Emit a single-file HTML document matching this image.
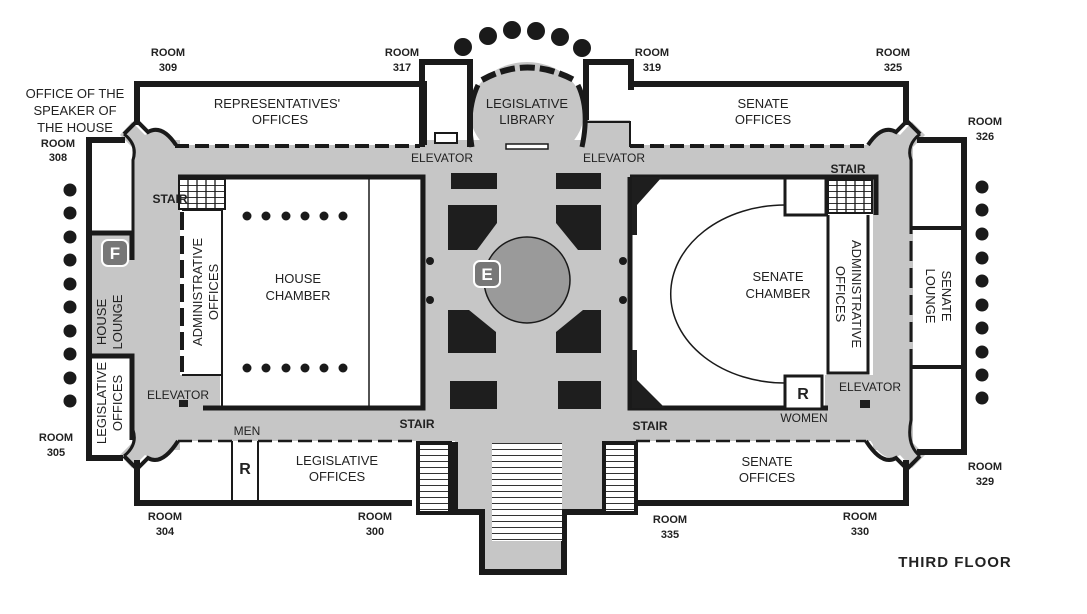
<!DOCTYPE html>
<html><head><meta charset="utf-8"><style>
html,body{margin:0;padding:0;background:#fff;}
svg{display:block}
text{font-family:"Liberation Sans",sans-serif;fill:#222;}
.b{font-weight:bold;font-size:11px;}
.n{font-size:13px;}
</style></head><body>
<svg width="1087" height="614" viewBox="0 0 1087 614" xmlns="http://www.w3.org/2000/svg">
<defs><pattern id="st" width="10" height="6" patternUnits="userSpaceOnUse"><rect width="10" height="6" fill="#fff"/><rect y="5" width="10" height="1.3" fill="#333"/></pattern></defs>
<g fill="#c6c6c6" stroke="none">
<!-- corridors -->
<rect x="135" y="145" width="775" height="32"/>
<rect x="135" y="407" width="775" height="34"/>
<rect x="132" y="140" width="48" height="310"/>
<rect x="873" y="140" width="40" height="310"/>
<rect x="420" y="140" width="210" height="300"/>
<rect x="455" y="430" width="155" height="80"/>
<rect x="482" y="500" width="82" height="72"/>
<ellipse cx="527" cy="112" rx="57" ry="50"/>
<rect x="92" y="233" width="43" height="122"/>
<rect x="585" y="120" width="45" height="30"/>
<rect x="180" y="375" width="40" height="35"/>
<rect x="825" y="375" width="50" height="35"/>
<!-- corner bumps -->
<path d="M120,135 L132,122 L145,135 Q160,125 178,145 L135,150 Z"/>
<path d="M925,135 L912,122 L900,135 Q885,125 870,145 L910,150 Z"/>
<path d="M120,455 L132,468 L145,455 Q160,465 178,440 L135,440 Z"/>
<path d="M925,455 L912,468 L900,455 Q885,465 870,440 L910,440 Z"/>
</g>
<g fill="none" stroke="#1a1a1a" stroke-linejoin="miter">
<!-- outer walls -->
<path d="M137,125 V84 H424 V145" stroke-width="6"/>
<path d="M906,125 V84 H630" stroke-width="6"/>
<path d="M137,460 V503 H412" stroke-width="6"/>
<path d="M906,460 V503 H636" stroke-width="6"/>
<path d="M125,140 H89 V458 H123" stroke-width="6"/>
<path d="M917,140 H964 V452 H917" stroke-width="6"/>
<path d="M89,233 H132 V260" stroke-width="5"/>
<path d="M89,356 H132 V440" stroke-width="5"/>
<path d="M911,228 H962 M911,367 H962" stroke-width="4"/>
<!-- corner outlines -->
<path d="M124,134 L137,121 L148,132 Q162,124 176,145" stroke-width="4"/>
<path d="M124,134 Q138,145 133,160 L133,233" stroke-width="3"/>
<path d="M920,134 L907,121 L896,132 Q882,124 868,145" stroke-width="4"/>
<path d="M920,134 Q906,145 911,160 L911,228" stroke-width="3"/>
<path d="M124,456 L137,469 L148,458 Q162,466 178,441" stroke-width="4"/>
<path d="M124,456 Q138,445 133,430" stroke-width="3"/>
<path d="M920,456 L907,469 L896,458 Q882,466 866,441" stroke-width="4"/>
<path d="M920,456 Q906,445 911,420 L911,367" stroke-width="3"/>
<!-- dashed corridor lines -->
<path d="M175,146 H420 M630,146 H868" stroke-width="4" stroke-dasharray="14,6"/>
<path d="M178,441 H414 M636,441 H866" stroke-width="2.5" stroke-dasharray="14,6"/>
<path d="M182,212 V372" stroke-width="4" stroke-dasharray="18,6"/>
<path d="M911,160 V420" stroke-width="3" stroke-dasharray="20,7"/>
<!-- towers -->
<path d="M422,147 V62 H470 V147" stroke-width="6"/>
<path d="M586,120 V62 H631 V90" stroke-width="6"/>
<path d="M586,122 H630 V147" stroke-width="2"/>
<rect x="435" y="133" width="22" height="10" stroke-width="2" fill="#fff"/>
<rect x="506" y="144" width="42" height="5" stroke-width="1.5" fill="#fff"/>
<path d="M472,147 Q466,110 478,85 M582,147 Q590,110 578,85" stroke-width="5"/>
<path d="M482,80 Q527,55 574,80" stroke-width="6" stroke-dasharray="15,5"/>
<!-- house chamber -->
<path d="M178,177 H423 V408 H203" stroke-width="5"/>
<path d="M369,177 V408" stroke-width="1.5"/>
<path d="M222,177 V408" stroke-width="2"/>
<path d="M182,210 H222 M182,375 H222" stroke-width="2"/>
<!-- senate chamber -->
<path d="M630,177 V408 H828 M630,177 H876 V215" stroke-width="5"/>
<path d="M826,178 V215 H785 V178 M785,215 H828" stroke-width="3"/>
<path d="M828,215 V373 H868 V215" stroke-width="3"/>
<path d="M785,205 A113,88 0 0,0 785,383" stroke-width="1.5"/>
<rect x="785" y="376" width="37" height="33" stroke-width="3" fill="#fff"/>
<!-- bottom -->
<path d="M455,442 V512 H482 V572 H564 V512 H605 V442" stroke-width="6"/>
<path d="M232,441 V503 M258,441 V503" stroke-width="2"/>
</g>
<!-- stairs -->
<rect x="179" y="179" width="46" height="30" fill="url(#st)" stroke="#1a1a1a" stroke-width="2"/>
<rect x="828" y="180" width="44" height="33" fill="url(#st)" stroke="#1a1a1a" stroke-width="2"/>
<g stroke="#1a1a1a" stroke-width="1.3"><path d="M188,179V209M197,179V209M206,179V209M215,179V209M837,180V213M846,180V213M855,180V213M864,180V213"/></g>
<rect x="418" y="443" width="32" height="70" fill="url(#st)" stroke="#1a1a1a" stroke-width="4"/>
<rect x="604" y="443" width="32" height="70" fill="url(#st)" stroke="#1a1a1a" stroke-width="4"/>
<rect x="492" y="443" width="70" height="98" fill="url(#st)"/>
<!-- center dark blocks -->
<g fill="#1e1e1e">
<rect x="451" y="173" width="46" height="16"/><rect x="556" y="173" width="45" height="16"/>
<path d="M448,205 H497 V223 L477,250 H448 Z"/>
<path d="M556,205 H601 V250 H578 L556,223 Z"/>
<path d="M448,310 H469 L496,332 V353 H448 Z"/>
<path d="M583,310 H601 V353 H556 V332 Z"/>
<rect x="450" y="381" width="47" height="28"/><rect x="558" y="381" width="43" height="28"/>
<path d="M632,177 H662 L637,205 V235 H632 Z"/>
<path d="M632,408 H665 L637,380 V350 H632 Z"/>
<rect x="179" y="400" width="9" height="7"/><rect x="860" y="400" width="10" height="8"/>
</g>
<circle cx="527" cy="280" r="43" fill="#9a9a9a" stroke="#1a1a1a" stroke-width="1.5"/>
<g fill="#1a1a1a">
<circle cx="430" cy="261" r="4"/><circle cx="430" cy="300" r="4"/><circle cx="623" cy="261" r="4"/><circle cx="623" cy="300" r="4"/>
<circle cx="463" cy="47" r="9"/><circle cx="488" cy="36" r="9"/><circle cx="512" cy="30" r="9"/><circle cx="536" cy="31" r="9"/><circle cx="560" cy="37" r="9"/><circle cx="582" cy="48" r="9"/>
<circle cx="247" cy="216" r="4.5"/><circle cx="266" cy="216" r="4.5"/><circle cx="286" cy="216" r="4.5"/><circle cx="305" cy="216" r="4.5"/><circle cx="324" cy="216" r="4.5"/><circle cx="343" cy="216" r="4.5"/>
<circle cx="247" cy="368" r="4.5"/><circle cx="266" cy="368" r="4.5"/><circle cx="286" cy="368" r="4.5"/><circle cx="305" cy="368" r="4.5"/><circle cx="324" cy="368" r="4.5"/><circle cx="343" cy="368" r="4.5"/>
<circle cx="70" cy="190" r="6.5"/><circle cx="70" cy="213" r="6.5"/><circle cx="70" cy="237" r="6.5"/><circle cx="70" cy="260" r="6.5"/><circle cx="70" cy="284" r="6.5"/><circle cx="70" cy="307" r="6.5"/><circle cx="70" cy="331" r="6.5"/><circle cx="70" cy="354" r="6.5"/><circle cx="70" cy="378" r="6.5"/><circle cx="70" cy="401" r="6.5"/>
<circle cx="982" cy="187" r="6.5"/><circle cx="982" cy="210" r="6.5"/><circle cx="982" cy="234" r="6.5"/><circle cx="982" cy="258" r="6.5"/><circle cx="982" cy="281" r="6.5"/><circle cx="982" cy="305" r="6.5"/><circle cx="982" cy="328" r="6.5"/><circle cx="982" cy="352" r="6.5"/><circle cx="982" cy="375" r="6.5"/><circle cx="982" cy="398" r="6.5"/>
</g>
<!-- badges -->
<rect x="102" y="240" width="26" height="26" rx="6" fill="#777" stroke="#fff" stroke-width="2"/>
<text x="115" y="259" text-anchor="middle" style="font-weight:bold;font-size:17px;fill:#fff">F</text>
<rect x="474" y="261" width="26" height="26" rx="6" fill="#777" stroke="#fff" stroke-width="2"/>
<text x="487" y="280" text-anchor="middle" style="font-weight:bold;font-size:17px;fill:#fff">E</text>
<!-- labels -->
<g class="b" text-anchor="middle">
<text x="168" y="56">ROOM</text><text x="168" y="71">309</text>
<text x="402" y="56">ROOM</text><text x="402" y="71">317</text>
<text x="652" y="56">ROOM</text><text x="652" y="71">319</text>
<text x="893" y="56">ROOM</text><text x="893" y="71">325</text>
<text x="985" y="125">ROOM</text><text x="985" y="140">326</text>
<text x="58" y="147">ROOM</text><text x="58" y="161">308</text>
<text x="56" y="441">ROOM</text><text x="56" y="456">305</text>
<text x="165" y="520">ROOM</text><text x="165" y="535">304</text>
<text x="375" y="520">ROOM</text><text x="375" y="535">300</text>
<text x="670" y="523">ROOM</text><text x="670" y="538">335</text>
<text x="860" y="520">ROOM</text><text x="860" y="535">330</text>
<text x="985" y="470">ROOM</text><text x="985" y="485">329</text>
<text x="170" y="203" style="font-size:12px">STAIR</text>
<text x="848" y="173" style="font-size:12px">STAIR</text>
<text x="417" y="428" style="font-size:12px">STAIR</text>
<text x="650" y="430" style="font-size:12px">STAIR</text>
<text x="245" y="175" style="display:none"></text>
</g>
<g class="n" text-anchor="middle">
<text x="75" y="98">OFFICE  OF THE</text><text x="75" y="115">SPEAKER OF</text><text x="75" y="132">THE HOUSE</text>
<text x="277" y="108">REPRESENTATIVES'</text><text x="280" y="124">OFFICES</text>
<text x="527" y="108">LEGISLATIVE</text><text x="527" y="124">LIBRARY</text>
<text x="763" y="108">SENATE</text><text x="763" y="124">OFFICES</text>
<text x="442" y="162" style="font-size:12px">ELEVATOR</text>
<text x="614" y="162" style="font-size:12px">ELEVATOR</text>
<text x="298" y="283">HOUSE</text><text x="298" y="300">CHAMBER</text>
<text x="778" y="281">SENATE</text><text x="778" y="298">CHAMBER</text>
<text x="178" y="399" style="font-size:12px">ELEVATOR</text>
<text x="870" y="391" style="font-size:12px">ELEVATOR</text>
<text x="247" y="435" style="font-size:12px">MEN</text>
<text x="804" y="422" style="font-size:12px">WOMEN</text>
<text x="337" y="465">LEGISLATIVE</text><text x="337" y="481">OFFICES</text>
<text x="767" y="466">SENATE</text><text x="767" y="482">OFFICES</text>
</g>
<g class="n" text-anchor="middle">
<text transform="translate(202,292) rotate(-90)">ADMINISTRATIVE</text>
<text transform="translate(218,292) rotate(-90)">OFFICES</text>
<text transform="translate(106,322) rotate(-90)">HOUSE</text>
<text transform="translate(122,322) rotate(-90)">LOUNGE</text>
<text transform="translate(106,403) rotate(-90)">LEGISLATIVE</text>
<text transform="translate(122,403) rotate(-90)">OFFICES</text>
<text transform="translate(852,294) rotate(90)">ADMINISTRATIVE</text>
<text transform="translate(836,294) rotate(90)">OFFICES</text>
<text transform="translate(942,296) rotate(90)">SENATE</text>
<text transform="translate(926,296) rotate(90)">LOUNGE</text>
</g>
<text x="245" y="474" text-anchor="middle" style="font-weight:bold;font-size:16px">R</text>
<text x="803" y="399" text-anchor="middle" style="font-weight:bold;font-size:16px">R</text>
<text x="955" y="567" text-anchor="middle" style="font-weight:bold;font-size:15px;letter-spacing:1px">THIRD FLOOR</text>
</svg>
</body></html>
